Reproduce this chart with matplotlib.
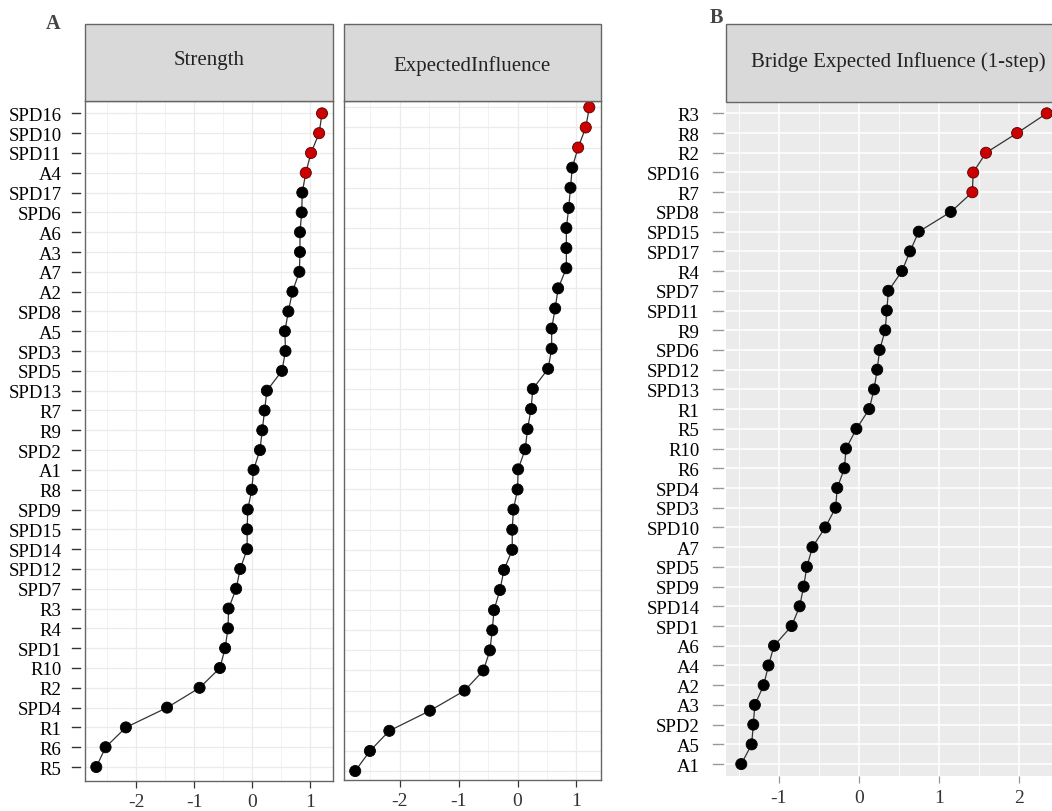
import matplotlib
matplotlib.use("Agg")
import matplotlib.pyplot as plt
from matplotlib.patches import Rectangle
from matplotlib.ticker import MultipleLocator
import numpy as np

plt.rcParams['font.family'] = ['Liberation Serif', 'DejaVu Serif']
plt.rcParams['axes.unicode_minus'] = False

# ---------------- data ----------------
# Panel A: order from top to bottom
a_labels = ["SPD16", "SPD10", "SPD11", "A4", "SPD17", "SPD6", "A6", "A3", "A7", "A2",
            "SPD8", "A5", "SPD3", "SPD5", "SPD13", "R7", "R9", "SPD2", "A1", "R8",
            "SPD9", "SPD15", "SPD14", "SPD12", "SPD7", "R3", "R4", "SPD1", "R10", "R2",
            "SPD4", "R1", "R6", "R5"]
strength = [1.20, 1.15, 1.01, 0.92, 0.86, 0.85, 0.82, 0.82, 0.81, 0.69,
            0.62, 0.56, 0.57, 0.51, 0.25, 0.21, 0.17, 0.13, 0.02, -0.01,
            -0.08, -0.09, -0.09, -0.21, -0.28, -0.41, -0.42, -0.47, -0.56, -0.91,
            -1.47, -2.18, -2.53, -2.69]
expected_influence = [1.22, 1.16, 1.03, 0.93, 0.90, 0.87, 0.83, 0.83, 0.83, 0.69,
                      0.64, 0.58, 0.58, 0.52, 0.26, 0.23, 0.17, 0.13, 0.01, 0.00,
                      -0.07, -0.09, -0.09, -0.23, -0.30, -0.40, -0.43, -0.47, -0.58, -0.90,
                      -1.49, -2.18, -2.51, -2.76]
n_red_strength = 4
n_red_ei = 3

# Panel B: order from top to bottom
b_labels = ["R3", "R8", "R2", "SPD16", "R7", "SPD8", "SPD15", "SPD17", "R4", "SPD7",
            "SPD11", "R9", "SPD6", "SPD12", "SPD13", "R1", "R5", "R10", "R6", "SPD4",
            "SPD3", "SPD10", "A7", "SPD5", "SPD9", "SPD14", "SPD1", "A6", "A4", "A2",
            "A3", "SPD2", "A5", "A1"]
bridge_ei = [2.35, 1.98, 1.59, 1.43, 1.42, 1.15, 0.75, 0.64, 0.54, 0.37,
             0.35, 0.33, 0.26, 0.23, 0.19, 0.13, -0.03, -0.16, -0.18, -0.27,
             -0.29, -0.42, -0.58, -0.65, -0.69, -0.74, -0.84, -1.06, -1.13, -1.19,
             -1.30, -1.32, -1.34, -1.47]
n_red_bridge = 5

# ---------------- figure ----------------
W, H = 1052, 812
fig = plt.figure(figsize=(W / 100, H / 100), dpi=100)


def px_axes(x0, x1, y0, y1):
    return fig.add_axes([x0 / W, 1 - y1 / H, (x1 - x0) / W, (y1 - y0) / H])


def header(x0, x1, y0, y1, text, ty):
    fig.patches.append(Rectangle((x0 / W, 1 - y1 / H), (x1 - x0) / W, (y1 - y0) / H,
                                 transform=fig.transFigure, facecolor="#D9D9D9",
                                 edgecolor="#666666", linewidth=1.0, zorder=5))
    fig.text((x0 + x1) / 2 / W, 1 - ty / H, text, ha="center", va="center",
             fontsize=15, color="#222222", zorder=6)


def draw_panel(ax, values, labels, n_red, ylo, yhi, style, axw_px, tick_px):
    n = len(values)
    ypos = np.arange(n)[::-1]
    vals = np.array(values)
    lo, hi = vals.min(), vals.max()
    rng = hi - lo
    ax.set_xlim(lo - 0.05 * rng, hi + 0.05 * rng)
    ax.set_ylim(ylo, yhi)
    ax.plot(vals, ypos, color="#333333", lw=0.9, zorder=3)
    colors = ["#CC0000" if i < n_red else "black" for i in range(n)]
    edges = ["#550000" if i < n_red else "black" for i in range(n)]
    ax.scatter(vals, ypos, s=64, c=colors, edgecolors=edges, linewidths=0.6, zorder=4)
    ax.xaxis.set_major_locator(MultipleLocator(1))
    ax.xaxis.set_minor_locator(MultipleLocator(0.5))
    ax.set_yticks(ypos)
    if style == "white":
        ax.set_facecolor("white")
        ax.grid(which="major", color="#EBEBEB", lw=0.9)
        ax.grid(which="minor", axis="x", color="#F2F2F2", lw=0.7)
        for s in ax.spines.values():
            s.set_color("#666666")
            s.set_linewidth(1.0)
        tcol = "#333333"
    else:
        ax.set_facecolor("#EBEBEB")
        ax.grid(which="major", color="white", lw=1.1)
        ax.grid(which="minor", axis="x", color="white", lw=0.6)
        for s in ax.spines.values():
            s.set_visible(False)
        tcol = "#999999"
    ax.set_axisbelow(True)
    ax.tick_params(axis="x", which="major", length=5, width=0.9, color=tcol,
                   labelsize=14, labelcolor="#333333", pad=4)
    ax.tick_params(axis="x", which="minor", length=0)
    if labels is None:
        ax.set_yticklabels([])
        ax.tick_params(axis="y", length=0)
    else:
        ax.set_yticklabels(labels, fontsize=13.5, color="black")
        ax.tick_params(axis="y", length=0, pad=tick_px[2])
        tr = ax.get_yaxis_transform()
        for y in ypos:
            ax.plot([-tick_px[0] / axw_px, -tick_px[1] / axw_px], [y, y], transform=tr,
                    color=tcol, lw=1.0, clip_on=False, zorder=5)


# Panel A - Strength
ax1 = px_axes(85, 333.3, 101.7, 781.5)
draw_panel(ax1, strength, a_labels, n_red_strength, -0.68, 33.64, "white", 248.3, (13, 5, 17))
# Panel A - ExpectedInfluence
ax2 = px_axes(343.5, 601, 101.7, 780.7)
draw_panel(ax2, expected_influence, None, n_red_ei, -0.43, 33.33, "white", 257.5, (0, 0, 0))
# Panel B
ax3 = px_axes(726, 1062, 102.7, 777.3)
draw_panel(ax3, bridge_ei, b_labels, n_red_bridge, -0.62, 33.59, "gray", 336, (13, 3, 19))

header(85, 333.3, 25, 101.7, "Strength", 61)
header(343.5, 601, 25, 101.7, "ExpectedInfluence", 66)
header(726, 1070, 25, 102.7, "Bridge Expected Influence (1-step)", 62)

fig.text(52.7 / W, 1 - 24 / H, "A", fontsize=14.5, fontweight="bold", color="#444444",
         ha="center", va="center")
fig.text(716 / W, 1 - 18 / H, "B", fontsize=14.5, fontweight="bold", color="#444444",
         ha="center", va="center")

fig.savefig("out.png", dpi=100)
